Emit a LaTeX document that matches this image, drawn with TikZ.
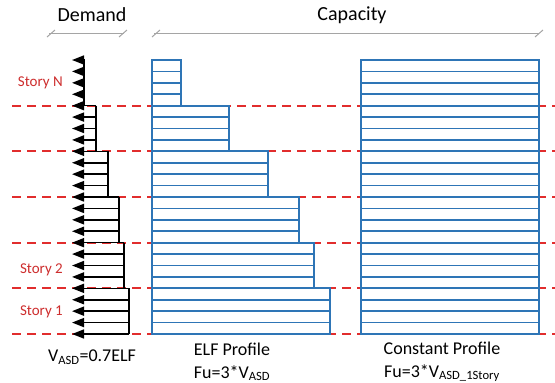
\documentclass[tikz,border=0pt]{standalone}
\usepackage{fontspec}
\setmainfont{Carlito}
\usetikzlibrary{arrows.meta}
\definecolor{capblue}{RGB}{46,117,182}
\definecolor{dashred}{RGB}{225,45,45}
\definecolor{storyred}{RGB}{205,45,45}
\definecolor{brkgray}{RGB}{165,165,165}
\tikzset{
  floorline/.style={dashred, line width=2pt, dash pattern=on 9pt off 6pt},
  capbox/.style={capblue, line width=1.7pt, fill=white, fill opacity=0.8, draw opacity=1},
  demline/.style={black, line width=1.6pt},
  demarrow/.style={black, line width=1.6pt, -{Triangle[length=12pt,width=9pt]}},
  bracket/.style={brkgray, line width=1pt},
  storylbl/.style={text=storyred, font=\fontsize{15}{17}\selectfont, anchor=east, inner sep=0pt},
  headlbl/.style={font=\fontsize{20}{22}\selectfont, inner sep=0pt},
  footlbl/.style={font=\fontsize{18}{20}\selectfont, inner sep=0pt},
}
\begin{document}
\begin{tikzpicture}[x=1pt,y=-1pt]
\useasboundingbox (0,0) rectangle (555,383);
\pgfmathsetmacro{\rh}{274/24}
\pgfmathsetmacro{\bh}{274/6}
% floor lines
\foreach \k in {1,...,6}
  \draw[floorline] (12,{60+\k*\bh}) -- (555,{60+\k*\bh});
% ELF profile
\foreach \w [count=\i from 0] in {181,229,268,299,314,330}
  \foreach \j in {0,...,3}
    \draw[capbox] (152,{60+\i*\bh+\j*\rh}) rectangle (\w,{60+\i*\bh+(\j+1)*\rh});
% Constant profile
\foreach \j in {0,...,23}
  \draw[capbox] (361,{60+\j*\rh}) rectangle (539,{60+(\j+1)*\rh});
% Demand
\foreach \w [count=\i from 0] in {84,96,108,119,124,129} {
  \draw[demline] (\w,{60+\i*\bh}) -- (\w,{60+(\i+1)*\bh});
  \foreach \j in {0,...,3}
    \draw[demarrow] (\w,{60+\i*\bh+\j*\rh}) -- (72,{60+\i*\bh+\j*\rh});
}
\draw[demarrow] (129,334) -- (72,334);
% brackets
\draw[bracket] (49,33.5) -- (124,33.5);
\draw[bracket] (47,37) -- (55,30);
\draw[bracket] (119,37) -- (127,30);
\draw[bracket] (154,33.5) -- (539,33.5);
\draw[bracket] (152,37) -- (160,30);
\draw[bracket] (535,37) -- (543,30);
% labels
\node[headlbl] (demand) at (92,15) {Demand};
\node[headlbl] (capacity) at (352,15) {Capacity};
\node[storylbl] (storyN) at (63,83) {Story N};
\node[storylbl] (story2) at (63,270) {Story 2};
\node[storylbl] (story1) at (63,312) {Story 1};
\node[footlbl] (vasd) at (92,357) {V\textsubscript{ASD}=0.7ELF};
\node[footlbl] (elf) at (232,349) {ELF Profile};
\node[footlbl] (elffu) at (232,373) {Fu=3*V\textsubscript{ASD}};
\node[footlbl] (const) at (442,348) {Constant Profile};
\node[footlbl] (constfu) at (442,373) {Fu=3*V\textsubscript{ASD\_1Story}};
\end{tikzpicture}
\end{document}
